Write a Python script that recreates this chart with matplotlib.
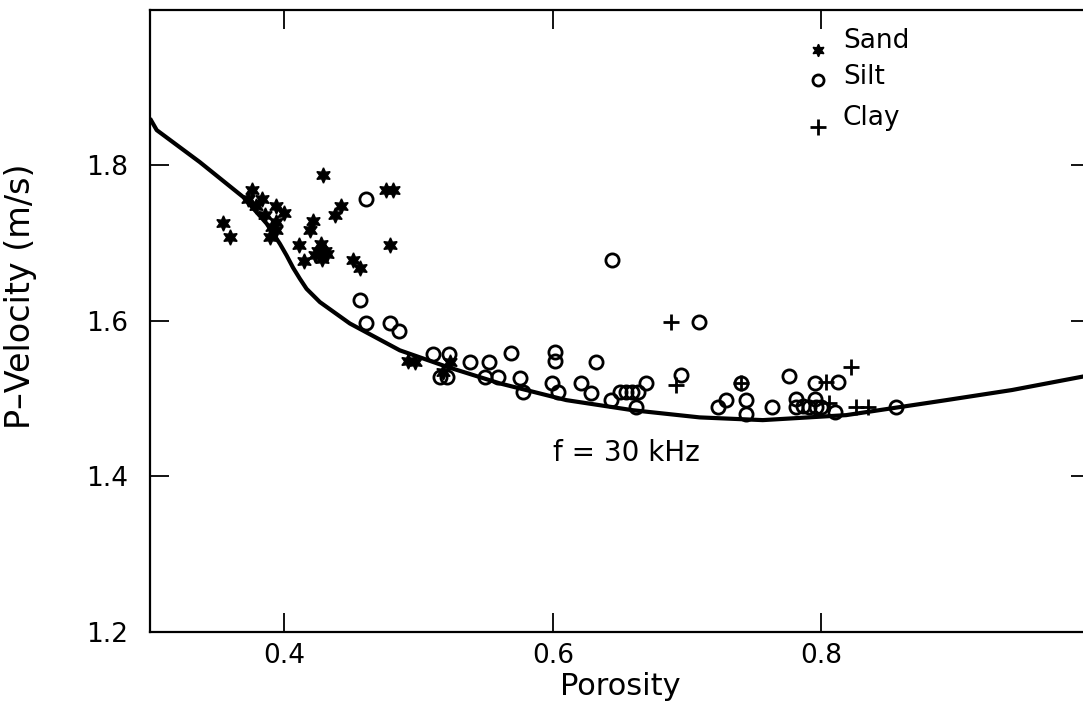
import numpy as np
import matplotlib
matplotlib.use('Agg')
import matplotlib.pyplot as plt

# data
sand_x = [0.354, 0.3595, 0.376, 0.373, 0.3835, 0.379, 0.394, 0.400, 0.3855, 0.394, 0.3905,
          0.394, 0.389, 0.429, 0.476, 0.481, 0.4426, 0.4377, 0.4215, 0.419, 0.411, 0.4146,
          0.425, 0.430, 0.428, 0.432, 0.423, 0.427, 0.451, 0.4563, 0.4786, 0.492, 0.497,
          0.518, 0.5233]
sand_y = [1.726, 1.707, 1.768, 1.757, 1.757, 1.747, 1.748, 1.738, 1.736, 1.727, 1.721,
          1.716, 1.707, 1.787, 1.768, 1.768, 1.747, 1.7365, 1.728, 1.717, 1.697, 1.677,
          1.69, 1.69, 1.68, 1.686, 1.685, 1.699, 1.678, 1.668, 1.697, 1.548, 1.547,
          1.534, 1.547]

silt_x = [0.461, 0.4563, 0.461, 0.479, 0.4853, 0.5108, 0.5225, 0.5158, 0.5215, 0.5381,
          0.5525, 0.5493, 0.5592, 0.5687, 0.5758, 0.5778, 0.6014, 0.6014, 0.599, 0.6038,
          0.6324, 0.6212, 0.6286, 0.6435, 0.6498, 0.6547, 0.659, 0.6633, 0.6695, 0.662,
          0.6956, 0.7085, 0.644, 0.7402, 0.729, 0.723, 0.744, 0.744, 0.7633, 0.776,
          0.781, 0.781, 0.786, 0.791, 0.796, 0.800, 0.7949, 0.7949, 0.8122, 0.8098, 0.8556]
silt_y = [1.757, 1.6265, 1.5965, 1.597, 1.5866, 1.557, 1.557, 1.528, 1.528, 1.547,
          1.547, 1.528, 1.528, 1.558, 1.526, 1.5087, 1.560, 1.5485, 1.520, 1.5087,
          1.547, 1.5195, 1.5075, 1.498, 1.5087, 1.5087, 1.5087, 1.5087, 1.5195, 1.4894,
          1.530, 1.5986, 1.678, 1.5195, 1.498, 1.4894, 1.498, 1.480, 1.4894, 1.529,
          1.500, 1.4894, 1.491, 1.4894, 1.4894, 1.4894, 1.500, 1.5195, 1.5215, 1.483, 1.4894]

clay_x = [0.688, 0.6918, 0.7402, 0.8035, 0.822, 0.806, 0.826, 0.8346]
clay_y = [1.5986, 1.5173, 1.5195, 1.5215, 1.541, 1.494, 1.4894, 1.4894]

# model curve, f = 30 kHz
curve_x = [0.30, 0.305, 0.337, 0.3694, 0.3868, 0.3967, 0.4017, 0.4066, 0.4116, 0.4166,
           0.4265, 0.4488, 0.486, 0.5208, 0.5605, 0.61, 0.6596, 0.7093, 0.7563, 0.8184,
           0.893, 0.942, 0.9908, 1.0]
curve_y = [1.86, 1.845, 1.804, 1.759, 1.725, 1.699, 1.684, 1.668, 1.654, 1.641,
           1.624, 1.5965, 1.562, 1.541, 1.5195, 1.498, 1.485, 1.4758, 1.4723, 1.4787,
           1.498, 1.511, 1.527, 1.530]

fig = plt.figure(figsize=(10.83, 7.06), dpi=100)
ax = fig.add_axes([150/1083, 74/706, 940/1083, 622.5/706])

ax.plot(curve_x, curve_y, color='black', lw=3.0, solid_capstyle='butt',
        solid_joinstyle='round', zorder=2)
ax.plot(sand_x, sand_y, ls='none', marker=(6, 1, 0), ms=11, color='black', zorder=3)
ax.plot(silt_x, silt_y, ls='none', marker='o', ms=9.5, mfc='none', mec='black', mew=2.0, zorder=3)
ax.plot(clay_x, clay_y, ls='none', marker='+', ms=12, mec='black', mew=2.0, zorder=3)

ax.set_xlim(0.3, 1.0)
ax.set_ylim(1.2, 2.0)
ax.set_xticks([0.4, 0.6, 0.8])
ax.set_yticks([1.2, 1.4, 1.6, 1.8])
ax.set_xticklabels(['0.4', '0.6', '0.8'], fontsize=19)
ax.set_yticklabels(['1.2', '1.4', '1.6', '1.8'], fontsize=19)
ax.tick_params(direction='in', length=14, width=1.3, top=True, right=True)
ax.tick_params(axis='x', pad=8)
ax.tick_params(axis='y', pad=16)
for s in ax.spines.values():
    s.set_linewidth(1.6)

ax.set_xlabel('Porosity', fontsize=22, labelpad=2)
ax.set_ylabel('P\u2013Velocity (m/s)', fontsize=24)
ax.yaxis.set_label_coords(-0.12, 0.54)

ax.text(0.600, 1.430, 'f = 30 kHz', fontsize=20, va='center', ha='left')

# legend drawn by hand, top right
leg_mk = [dict(marker=(6, 1, 0), ms=9, color='black'),
          dict(marker='o', ms=8, mfc='none', mec='black', mew=2.0),
          dict(marker='+', ms=11, mec='black', mew=2.0)]
leg_names = ['Sand', 'Silt', 'Clay']
leg_my = [0.935, 0.887, 0.812]
leg_ty = [0.9486, 0.892, 0.826]
for mk, name, my, ty in zip(leg_mk, leg_names, leg_my, leg_ty):
    ax.plot([0.7106], [my], ls='none', transform=ax.transAxes, clip_on=False, **mk)
    ax.text(0.737, ty, name, transform=ax.transAxes, fontsize=19, va='center', ha='left')

fig.savefig('out.png', dpi=100)
